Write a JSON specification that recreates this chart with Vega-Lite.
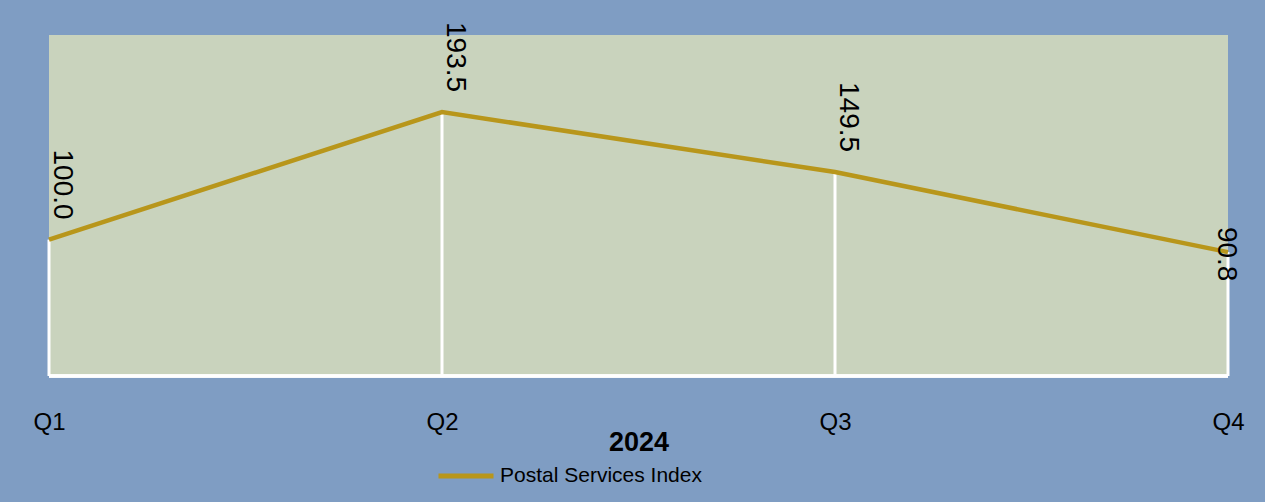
{
  "$schema": "https://vega.github.io/schema/vega-lite/v6.json",
  "autosize": "none",
  "width": 1179,
  "height": 341,
  "padding": {"left": 49, "top": 35, "right": 37, "bottom": 126},
  "background": "#7f9dc3",
  "config": {
    "view": {"fill": "#c9d3bd", "stroke": null},
    "font": "Liberation Sans"
  },
  "data": {
    "values": [
      {"quarter": "Q1", "value": 100.0, "series": "Postal Services Index"},
      {"quarter": "Q2", "value": 193.5, "series": "Postal Services Index"},
      {"quarter": "Q3", "value": 149.5, "series": "Postal Services Index"},
      {"quarter": "Q4", "value": 90.8, "series": "Postal Services Index"}
    ]
  },
  "encoding": {
    "x": {
      "field": "quarter",
      "type": "ordinal",
      "scale": {"type": "point", "padding": 0},
      "axis": {
        "title": "2024",
        "titleFontSize": 27,
        "titleFontWeight": "bold",
        "titleColor": "#000000",
        "titleBaseline": "alphabetic",
        "titleY": 74,
        "labelAngle": 0,
        "labelFontSize": 24,
        "labelColor": "#000000",
        "labelPadding": 34,
        "labelBound": false,
        "labelFlush": false,
        "labelOverlap": false,
        "domain": false,
        "ticks": false,
        "grid": false
      }
    },
    "y": {
      "field": "value",
      "type": "quantitative",
      "scale": {"domain": [0, 250], "nice": false, "zero": true},
      "axis": null
    }
  },
  "layer": [
    {
      "mark": {"type": "rule", "color": "#ffffff", "strokeWidth": 3},
      "encoding": {"y2": {"datum": 0}}
    },
    {
      "mark": {"type": "rule", "color": "#ffffff", "strokeWidth": 3},
      "encoding": {"x": null, "y": {"datum": 0}, "y2": null}
    },
    {
      "mark": {"type": "line", "strokeWidth": 4.5},
      "encoding": {
        "color": {
          "field": "series",
          "type": "nominal",
          "scale": {"range": ["#b8961b"]},
          "legend": {
            "title": null,
            "orient": "none",
            "legendX": 387,
            "legendY": 411,
            "padding": 0,
            "symbolType": "stroke",
            "symbolSize": 3025,
            "symbolStrokeWidth": 5,
            "labelFontSize": 21,
            "labelLimit": 400,
            "labelColor": "#000000",
            "labelOffset": 4
          }
        }
      }
    },
    {
      "transform": [{"filter": "datum.quarter !== 'Q4'"}],
      "mark": {"type": "text", "angle": 90, "align": "right", "baseline": "middle", "dx": -20, "dy": -13, "fontSize": 28, "color": "#000000"},
      "encoding": {"text": {"field": "value", "type": "quantitative", "format": ".1f"}}
    },
    {
      "transform": [{"filter": "datum.quarter === 'Q4'"}],
      "mark": {"type": "text", "angle": 90, "align": "center", "baseline": "middle", "dx": 2, "dy": 2, "fontSize": 28, "color": "#000000"},
      "encoding": {"text": {"field": "value", "type": "quantitative", "format": ".1f"}}
    }
  ]
}
